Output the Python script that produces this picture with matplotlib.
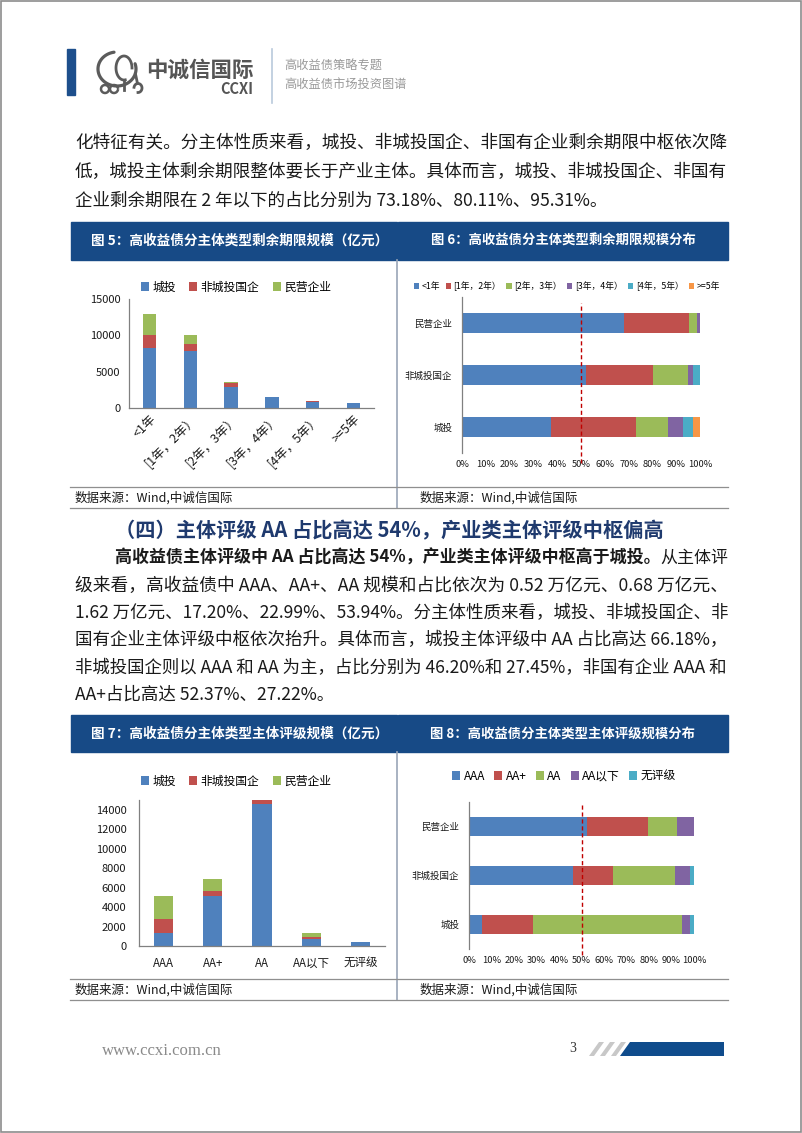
import matplotlib
matplotlib.use('Agg')
import matplotlib.pyplot as plt
from matplotlib.patches import Rectangle, Polygon
import numpy as np

plt.rcParams['font.family'] = ['Noto Sans CJK SC', 'DejaVu Sans']

# ---------------- data ----------------
tenor_cats = ['<1年', '[1年，2年）', '[2年，3年）', '[3年，4年）', '[4年，5年）', '>=5年']
tenor_chengtou = [8300, 7850, 2900, 1450, 830, 690]
tenor_soe = [1700, 920, 520, 50, 90, 10]
tenor_private = [3000, 1250, 120, 20, 10, 0]

share_rows = ['城投', '非城投国企', '民营企业']
tenor_share_labels = ['<1年', '[1年，2年）', '[2年，3年）', '[3年，4年）', '[4年，5年）', '>=5年']
tenor_share_lt1 = [37.5, 52.0, 68.1]
tenor_share_1_2 = [35.68, 28.11, 27.21]
tenor_share_2_3 = [13.5, 15.0, 3.4]
tenor_share_3_4 = [6.3, 1.8, 1.29]
tenor_share_4_5 = [3.9, 3.09, 0.0]
tenor_share_ge5 = [3.12, 0.0, 0.0]

rating_cats = ['AAA', 'AA+', 'AA', 'AA以下', '无评级']
rating_chengtou = [1300, 5150, 14600, 750, 380]
rating_soe = [1480, 510, 900, 220, 60]
rating_private = [2370, 1200, 570, 330, 0]

rating_share_aaa = [5.8, 46.20, 52.37]
rating_share_aap = [22.8, 17.8, 27.22]
rating_share_aa = [66.18, 27.45, 12.9]
rating_share_below = [3.4, 6.65, 7.51]
rating_share_none = [1.82, 1.9, 0.0]

type_labels = ['城投', '非城投国企', '民营企业']

para1 = ['化特征有关。分主体性质来看，城投、非城投国企、非国有企业剩余期限中枢依次降',
         '低，城投主体剩余期限整体要长于产业主体。具体而言，城投、非城投国企、非国有',
         '企业剩余期限在 2 年以下的占比分别为 73.18%、80.11%、95.31%。']
heading = '（四）主体评级 AA 占比高达 54%，产业类主体评级中枢偏高'
para2_bold = '高收益债主体评级中 AA 占比高达 54%，产业类主体评级中枢高于城投。'
para2_first_rest = '从主体评'
para2 = ['级来看，高收益债中 AAA、AA+、AA 规模和占比依次为 0.52 万亿元、0.68 万亿元、',
         '1.62 万亿元、17.20%、22.99%、53.94%。分主体性质来看，城投、非城投国企、非',
         '国有企业主体评级中枢依次抬升。具体而言，城投主体评级中 AA 占比高达 66.18%，',
         '非城投国企则以 AAA 和 AA 为主，占比分别为 46.20%和 27.45%，非国有企业 AAA 和',
         'AA+占比高达 52.37%、27.22%。']

# ---------------- style ----------------
BLUE = '#4F81BD'; RED = '#C0504D'; GREEN = '#9BBB59'
PURPLE = '#8064A2'; CYAN = '#4BACC6'; ORANGE = '#F79646'
BAND = '#174A86'
TXT = '#1a1a1a'
LOGO = '#5b5b5b'

W, H = 802, 1133
DPI = 100
fig = plt.figure(figsize=(W / DPI, H / DPI), dpi=DPI)
bg = fig.add_axes([0, 0, 1, 1], zorder=0)
bg.set_xlim(0, W); bg.set_ylim(H, 0); bg.axis('off')
renderer = fig.canvas.get_renderer()


def rect_axes(x0, y0, x1, y1):
    return fig.add_axes([x0 / W, 1 - y1 / H, (x1 - x0) / W, (y1 - y0) / H], zorder=2)


def fit_text(x0, x1, y, s, base, justify=True, **kw):
    t = bg.text(x0, y, s, fontsize=base, va='center', ha='left', **kw)
    if justify:
        w = t.get_window_extent(renderer).width
        f = (x1 - x0) / w
        f = min(max(f, 0.88), 1.12)
        t.set_fontsize(base * f)
    return t


# page border
bg.add_patch(Rectangle((0.5, 0.5), W - 1.5, H - 1.5, fill=False, ec='#8c8c8c', lw=1.2))

# ---------------- header ----------------
bg.add_patch(Rectangle((67, 49), 8, 46, color='#1d4f8c'))
bg.plot([272, 272], [49, 103], color='#b9c9dc', lw=1.2)
# elephant logo (decorative line drawing)
t = np.linspace(0.55 * np.pi, 2.1 * np.pi, 90)
bg.plot(117 + 19 * np.cos(t), 69 - 17 * np.sin(t), color=LOGO, lw=2.3, solid_capstyle='round')
t = np.linspace(0.0, 1.55 * np.pi, 70)
bg.plot(124 + 8 * np.cos(t), 68 - 12 * np.sin(t), color=LOGO, lw=2.0)
bg.plot([124, 124], [80, 90], color=LOGO, lw=2.0)
t = np.linspace(-0.5 * np.pi, 0.95 * np.pi, 40)
bg.plot(138 + 4 * np.cos(t), 88 - 4.5 * np.sin(t), color=LOGO, lw=2.0)
bg.plot([135.5, 137.5], [74, 83.5], color=LOGO, lw=2.0)
for cx in (105, 114):
    t = np.linspace(0.1 * np.pi, 1.9 * np.pi, 30)
    bg.plot(cx + 4 * np.cos(t), 89 - 4 * np.sin(t), color=LOGO, lw=1.8)
bg.text(146, 70, '中诚信国际', fontsize=15.5, color='#555555', va='center', ha='left', weight='bold')
bg.text(253, 88.5, 'CCXI', fontsize=10.5, color='#555555', va='center', ha='right', weight='bold')
bg.text(284, 66, '高收益债策略专题', fontsize=8.8, color='#9a9a9a', va='center', ha='left')
bg.text(284, 84, '高收益债市场投资图谱', fontsize=8.8, color='#9a9a9a', va='center', ha='left')

# ---------------- paragraph 1 ----------------
ys1 = [143, 172, 201]
for i, (yy, s) in enumerate(zip(ys1, para1)):
    fit_text(75, 728, yy, s, 12.6, justify=(i < len(para1) - 1), color=TXT)

# ---------------- heading + paragraph 2 ----------------
fit_text(115, 690, 531, heading, 13.0, color='#1F3A6E', weight='bold')
tb = bg.text(115, 558, para2_bold, fontsize=12.6, va='center', ha='left', color=TXT, weight='bold')
tr = bg.text(650, 558, para2_first_rest, fontsize=12.6, va='center', ha='left', color=TXT)
wb = tb.get_window_extent(renderer).width
wr = tr.get_window_extent(renderer).width
f = (728 - 115) / (wb + wr)
tb.set_fontsize(12.6 * f); tr.set_fontsize(12.6 * f)
tr.set_x(115 + wb * f)
ys2 = [585.5, 613, 640.5, 668, 695]
for i, (yy, s) in enumerate(zip(ys2, para2)):
    fit_text(75, 728, yy, s, 12.6, justify=(i < len(para2) - 1), color=TXT)


# ---------------- panels ----------------
def panel_frame(ytop, ybot_band, yline, ybottom, left_title, right_title):
    bg.add_patch(Rectangle((71, ytop), 325.5, ybot_band - ytop, color=BAND))
    bg.add_patch(Rectangle((398, ytop), 330, ybot_band - ytop, color=BAND))
    bg.text(240, (ytop + ybot_band) / 2, left_title, color='white', fontsize=9.8,
            weight='bold', ha='center', va='center')
    bg.text(563, (ytop + ybot_band) / 2, right_title, color='white', fontsize=9.6,
            weight='bold', ha='center', va='center')
    bg.plot([397, 397], [ybot_band, ybottom], color='#9aa6b8', lw=1.2)
    bg.plot([70, 728], [yline, yline], color='#8f8f8f', lw=0.9)
    bg.plot([70, 728], [ybottom, ybottom], color='#8f8f8f', lw=0.9)
    src = '数据来源：Wind,中诚信国际'
    bg.text(75, (yline + ybottom) / 2, src, fontsize=9, color=TXT, ha='left', va='center')
    bg.text(420, (yline + ybottom) / 2, src, fontsize=9, color=TXT, ha='left', va='center')


panel_frame(222, 260, 487, 508, '图 5：高收益债分主体类型剩余期限规模（亿元）', '图 6：高收益债分主体类型剩余期限规模分布')
panel_frame(715, 752, 979, 1000, '图 7：高收益债分主体类型主体评级规模（亿元）', '图 8：高收益债分主体类型主体评级规模分布')


def style_stack(ax):
    for s in ('top', 'right'):
        ax.spines[s].set_visible(False)
    for s in ('left', 'bottom'):
        ax.spines[s].set_color('#808080'); ax.spines[s].set_linewidth(0.9)
    ax.tick_params(length=0, colors=TXT)
    ax.set_facecolor('none')


def stacked_bar(ax, cats, series, colors, labels, width):
    x = np.arange(len(cats))
    bottom = np.zeros(len(cats))
    for vals, c, lab in zip(series, colors, labels):
        ax.bar(x, vals, width, bottom=bottom, color=c, label=lab)
        bottom = bottom + np.array(vals, dtype=float)
    ax.set_xlim(-0.5, len(cats) - 0.5)
    ax.set_xticks(x)
    return x


def stacked_barh(ax, rows, series, colors, labels, height):
    y = np.arange(len(rows))
    left = np.zeros(len(rows))
    for vals, c, lab in zip(series, colors, labels):
        ax.barh(y, vals, height, left=left, color=c, label=lab)
        left = left + np.array(vals, dtype=float)
    ax.set_ylim(-0.5, len(rows) - 0.5)
    ax.set_xlim(0, 100)
    ax.set_yticks(y); ax.set_yticklabels(rows)
    ax.set_xticks(np.arange(0, 101, 10))
    ax.set_xticklabels([f'{v}%' for v in range(0, 101, 10)])
    for s in ('top', 'right', 'bottom'):
        ax.spines[s].set_visible(False)
    ax.spines['left'].set_color('#808080'); ax.spines['left'].set_linewidth(0.9)
    ax.tick_params(length=0, colors=TXT)
    ax.set_facecolor('none')


# ---- Fig 5 ----
ax5 = rect_axes(129, 299, 374, 408)
stacked_bar(ax5, tenor_cats, [tenor_chengtou, tenor_soe, tenor_private],
            [BLUE, RED, GREEN], type_labels, 0.33)
ax5.set_ylim(0, 15000)
ax5.set_yticks([0, 5000, 10000, 15000])
style_stack(ax5)
ax5.tick_params(axis='y', labelsize=8, pad=6)
ax5.tick_params(axis='x', labelsize=9, pad=3)
ax5.set_xticklabels(tenor_cats, rotation=45, ha='right', va='top', rotation_mode='anchor')
ax5.legend(loc='center', bbox_to_anchor=(236 / W, 1 - 287 / H), bbox_transform=fig.transFigure,
           ncol=3, frameon=False, fontsize=8.5, handlelength=0.7, handleheight=0.7,
           handletextpad=0.3, columnspacing=1.1, borderpad=0)

# ---- Fig 6 ----
ax6 = rect_axes(462, 297, 700, 453)
stacked_barh(ax6, share_rows,
             [tenor_share_lt1, tenor_share_1_2, tenor_share_2_3, tenor_share_3_4, tenor_share_4_5, tenor_share_ge5],
             [BLUE, RED, GREEN, PURPLE, CYAN, ORANGE], tenor_share_labels, 0.385)
ax6.tick_params(axis='y', labelsize=6.8, pad=7)
ax6.tick_params(axis='x', labelsize=6.7, pad=5)
ax6.axvline(50, ymin=-0.064, ymax=0.962, color='#C00000', ls=(0, (3, 2)), lw=1.0, clip_on=False)
ax6.legend(loc='center', bbox_to_anchor=(567 / W, 1 - 286 / H), bbox_transform=fig.transFigure,
           ncol=6, frameon=False, fontsize=6.3, handlelength=0.6, handleheight=0.6,
           handletextpad=0.3, columnspacing=0.6, borderpad=0)

# ---- Fig 7 ----
ax7 = rect_axes(139, 800, 385, 946)
stacked_bar(ax7, rating_cats, [rating_chengtou, rating_soe, rating_private],
            [BLUE, RED, GREEN], type_labels, 0.39)
ax7.set_ylim(0, 15000)
ax7.set_yticks(np.arange(0, 14001, 2000))
style_stack(ax7)
ax7.tick_params(axis='y', labelsize=8, pad=9)
ax7.tick_params(axis='x', labelsize=8.3, pad=8)
ax7.set_xticklabels(rating_cats)
ax7.legend(loc='center', bbox_to_anchor=(236 / W, 1 - 781 / H), bbox_transform=fig.transFigure,
           ncol=3, frameon=False, fontsize=8.5, handlelength=0.7, handleheight=0.7,
           handletextpad=0.3, columnspacing=1.1, borderpad=0)

# ---- Fig 8 ----
ax8 = rect_axes(469, 802, 694, 949)
stacked_barh(ax8, share_rows,
             [rating_share_aaa, rating_share_aap, rating_share_aa, rating_share_below, rating_share_none],
             [BLUE, RED, GREEN, PURPLE, CYAN], rating_cats, 0.39)
ax8.tick_params(axis='y', labelsize=6.8, pad=7)
ax8.tick_params(axis='x', labelsize=6.7, pad=5)
ax8.axvline(50, ymin=-0.04, ymax=0.986, color='#C00000', ls=(0, (3, 2)), lw=1.0, clip_on=False)
ax8.legend(loc='center', bbox_to_anchor=(564 / W, 1 - 776 / H), bbox_transform=fig.transFigure,
           ncol=5, frameon=False, fontsize=8.5, handlelength=0.7, handleheight=0.7,
           handletextpad=0.3, columnspacing=0.75, borderpad=0)

# ---------------- footer ----------------
bg.text(102, 1051, 'www.ccxi.com.cn', fontsize=12, color='#8a8a8a', ha='left', va='center',
        family=['Liberation Serif', 'DejaVu Serif'])
bg.text(573, 1049, '3', fontsize=10, color='#333333', ha='center', va='center',
        family=['Liberation Serif', 'DejaVu Serif'])
for x0 in (589, 600, 611):
    bg.add_patch(Polygon([(x0, 1056), (x0 + 5, 1056), (x0 + 15, 1042), (x0 + 10, 1042)],
                         closed=True, color='#c8c8c8', lw=0))
bg.add_patch(Polygon([(620, 1056), (724, 1056), (724, 1042), (630, 1042)],
                     closed=True, color='#0f4c8c', lw=0))

fig.savefig('out.png', dpi=DPI)
